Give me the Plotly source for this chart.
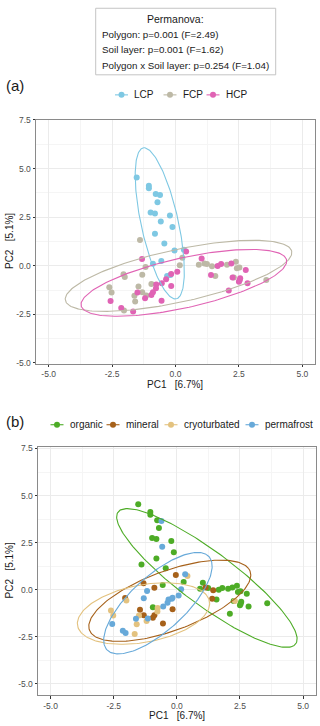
import numpy as np
import plotly.graph_objects as go

# ---------------- data ----------------
pc1 = [
    # LCP
    -1.53, -1.05, -1.05, -0.78, -0.61, -0.71, -0.98, -0.81, -0.22, -0.58,
    -0.12, -0.81, -0.44, -0.04, 0.33, -0.56, -0.89, -0.33, -0.20,
    # FCP
    -1.40, 0.27, 0.17, -1.18, -2.05, -2.00, -1.31, -2.61, -2.52, -1.46,
    -0.95, -1.62, -1.59, -1.31, -2.03, 0.92, 1.14, 1.24, 1.44, 1.57,
    2.03, 2.38, 2.42, 2.52, 2.30, 3.58, -1.15,
    # HCP
    -1.32, 0.42, 1.03, 1.40, 1.66, 1.80, 2.20, 2.77, 2.25, 2.55,
    2.53, 2.50, 2.84, 2.10, 0.07, -0.17, -0.37, -0.54, -0.76, -0.77,
    -0.89, -0.95, -1.20, -1.50, -0.17, -0.55, -2.56, -2.14, -1.67,
]
pc2 = [
    # LCP
    4.54, 4.12, 3.98, 3.69, 3.64, 3.27, 2.74, 2.69, 2.59, 2.28,
    1.99, 1.65, 1.14, 0.78, 0.82, 0.24, 0.10, -0.53, -0.48,
    # FCP
    1.33, 0.41, 0.02, -0.07, -0.44, -0.58, -0.46, -1.11, -1.38, -1.07,
    -0.94, -1.55, -1.84, -1.36, -2.30, 0.05, 0.12, 0.09, -0.03, -0.53,
    0.05, 0.20, -0.13, -0.09, -0.61, -0.73, -1.53,
    # HCP
    0.34, 0.73, 0.37, -0.48, -0.01, 0.09, 0.12, -0.22, -0.60, -0.65,
    -0.75, -0.83, -0.90, -1.28, -0.31, -0.43, -0.70, -0.90, -0.97, -1.16,
    -1.36, -1.50, -1.67, -1.38, -1.04, -1.80, -1.82, -2.18, -2.36,
]
polygon = ["LCP"] * 19 + ["FCP"] * 27 + ["HCP"] * 29
layer = [
    # LCP
    "organic", "organic", "organic", "organic", "permafrost", "organic", "organic",
    "organic", "organic", "permafrost", "organic", "organic", "organic", "mineral",
    "permafrost", "organic", "mineral", "permafrost", "permafrost",
    # FCP
    "organic", "organic", "permafrost", "permafrost", "mineral", "cryoturbated",
    "permafrost", "cryoturbated", "cryoturbated", "mineral", "organic", "permafrost",
    "cryoturbated", "mineral", "permafrost", "organic", "mineral", "organic",
    "mineral", "organic", "organic", "organic", "organic", "organic",
    "cryoturbated", "organic", "permafrost",
    # HCP
    "mineral", "cryoturbated", "organic", "mineral", "organic", "organic", "organic",
    "organic", "organic", "organic", "organic", "organic", "organic", "organic",
    "permafrost", "permafrost", "permafrost", "permafrost", "cryoturbated",
    "cryoturbated", "mineral", "mineral", "cryoturbated", "cryoturbated", "mineral",
    "mineral", "permafrost", "permafrost", "cryoturbated",
]

polygons = ["LCP", "FCP", "HCP"]
layers = ["organic", "mineral", "cryoturbated", "permafrost"]

# ellipse parameters: centre, semi-axes, angle (deg, data units)
ell_poly_cx = [-0.62, 0.12, 0.33]
ell_poly_cy = [2.18, -0.52, -0.88]
ell_poly_a = [3.94, 4.64, 4.22]
ell_poly_b = [0.74, 1.33, 1.26]
ell_poly_ang = [99.3, 16.4, 16.9]

ell_layer_cx = [1.19, -0.28, -1.32, -0.75]
ell_layer_cy = [0.62, -0.59, -1.27, -0.72]
ell_layer_a = [4.98, 3.56, 2.70, 3.22]
ell_layer_b = [1.25, 1.51, 1.50, 1.23]
ell_layer_ang = [-46.0, 28.6, 16.8, 53.7]

x_tick_vals = [-5.0, -2.5, 0.0, 2.5, 5.0]
x_tick_text = ["-5.0", "-2.5", "0.0", "2.5", "5.0"]
y_tick_vals = [-5.0, -2.5, 0.0, 2.5, 5.0, 7.5]
y_tick_text = ["-5.0", "-2.5", "0.0", "2.5", "5.0", "7.5"]

permanova_title = "Permanova:"
permanova_lines = [
    "Polygon: p=0.001 (F=2.49)",
    "Soil layer: p=0.001 (F=1.62)",
    "Polygon x Soil layer: p=0.254 (F=1.04)",
]

# ---------------- styles ----------------
poly_col = {"LCP": "#7EC8E3", "FCP": "#BDB9A6", "HCP": "#E063B4"}
layer_col = {"organic": "#4DAC26", "mineral": "#A6611A",
             "cryoturbated": "#E3C27F", "permafrost": "#67A9D9"}
FONT = "Liberation Sans, Arial, Helvetica, sans-serif"
W, H = 320, 726


def ellipse(cx, cy, a, b, ang):
    t = np.linspace(0, 2 * np.pi, 200)
    th = np.deg2rad(ang)
    x = cx + a * np.cos(t) * np.cos(th) - b * np.sin(t) * np.sin(th)
    y = cy + a * np.cos(t) * np.sin(th) + b * np.sin(t) * np.cos(th)
    return x, y


fig = go.Figure()
p1 = np.array(pc1)
p2 = np.array(pc2)
pg = np.array(polygon)
ly = np.array(layer)

# panel (a)
for i, g in enumerate(polygons):
    m = pg == g
    fig.add_trace(go.Scatter(x=p1[m], y=p2[m], mode="markers", xaxis="x", yaxis="y",
                             marker=dict(color=poly_col[g], size=6, line=dict(width=0)),
                             showlegend=False, hoverinfo="skip"))
for i, g in enumerate(polygons):
    ex, ey = ellipse(ell_poly_cx[i], ell_poly_cy[i], ell_poly_a[i], ell_poly_b[i], ell_poly_ang[i])
    fig.add_trace(go.Scatter(x=ex, y=ey, mode="lines", xaxis="x", yaxis="y",
                             line=dict(color=poly_col[g], width=1.1),
                             showlegend=False, hoverinfo="skip"))

# panel (b)
for i, g in enumerate(layers):
    m = ly == g
    fig.add_trace(go.Scatter(x=p1[m], y=p2[m], mode="markers", xaxis="x2", yaxis="y2",
                             marker=dict(color=layer_col[g], size=6, line=dict(width=0)),
                             showlegend=False, hoverinfo="skip"))
for i, g in enumerate(layers):
    ex, ey = ellipse(ell_layer_cx[i], ell_layer_cy[i], ell_layer_a[i], ell_layer_b[i], ell_layer_ang[i])
    fig.add_trace(go.Scatter(x=ex, y=ey, mode="lines", xaxis="x2", yaxis="y2",
                             line=dict(color=layer_col[g], width=1.1),
                             showlegend=False, hoverinfo="skip"))

# manual legends on a pixel overlay axis (x3/y3)
leg_a_key = [121.5, 170.0, 213.0]
leg_a_y = 91
leg_b_key = [57.0, 113.0, 171.0, 252.0]
leg_b_y = 425
annotations = []
for keys, names, cols, yy in [(leg_a_key, polygons, poly_col, leg_a_y),
                              (leg_b_key, layers, layer_col, leg_b_y)]:
    for k, n in zip(keys, names):
        fig.add_trace(go.Scatter(x=[k - 6.5, k + 6.5], y=[yy, yy], mode="lines",
                                 xaxis="x3", yaxis="y3",
                                 line=dict(color=cols[n], width=1.1),
                                 showlegend=False, hoverinfo="skip"))
        fig.add_trace(go.Scatter(x=[k], y=[yy], mode="markers", xaxis="x3", yaxis="y3",
                                 marker=dict(color=cols[n], size=6),
                                 showlegend=False, hoverinfo="skip"))
        annotations.append(dict(x=k + 10.5, y=yy, xref="x3", yref="y3", text=n,
                                showarrow=False, xanchor="left", yanchor="middle",
                                font=dict(family=FONT, size=10, color="#1a1a1a")))

# Permanova box text
annotations.append(dict(x=175, y=14, xref="x3", yref="y3", text=permanova_title,
                        showarrow=False, xanchor="center", yanchor="middle",
                        font=dict(family=FONT, size=10.5, color="#1a1a1a")))
for yy, t in zip([30, 45.5, 61], permanova_lines):
    annotations.append(dict(x=100, y=yy, xref="x3", yref="y3", text=t,
                            showarrow=False, xanchor="left", yanchor="middle",
                            font=dict(family=FONT, size=9.8, color="#1a1a1a")))

# panel tags
annotations.append(dict(x=4, y=82, xref="x3", yref="y3", text="(a)", showarrow=False,
                        xanchor="left", yanchor="middle",
                        font=dict(family=FONT, size=15, color="#1a1a1a")))
annotations.append(dict(x=4, y=422, xref="x3", yref="y3", text="(b)", showarrow=False,
                        xanchor="left", yanchor="middle",
                        font=dict(family=FONT, size=15, color="#1a1a1a")))

# axis titles
sp = "\u00a0\u00a0\u00a0"
for x, y, t, rot in [(175, 384, "PC1" + sp + "[6.7%]", 0),
                     (9.5, 239.5, "PC2" + sp + "[5.1%]", -90),
                     (177, 719.5, "PC1" + sp + "[6.7%]", 0),
                     (9.5, 573, "PC2" + sp + "[5.1%]", -90)]:
    annotations.append(dict(x=x, y=y, xref="x3", yref="y3", text=t, showarrow=False,
                            xanchor="center", yanchor="middle", textangle=rot,
                            font=dict(family=FONT, size=10, color="#1a1a1a")))

shapes = [dict(type="rect", xref="x3", yref="y3", x0=95.7, x1=275.7, y0=3.3, y1=70.7,
               line=dict(color="#C4C4C4", width=1), fillcolor="rgba(0,0,0,0)", layer="below")]


def axis(domain, rng, anchor, tv, tt):
    return dict(domain=domain, range=rng, anchor=anchor, tickmode="array",
                tickvals=tv, ticktext=tt,
                showgrid=True, gridcolor="#EBEBEB", gridwidth=1,
                minor=dict(tick0=0, dtick=1.25, showgrid=True, gridcolor="#F5F5F5",
                           gridwidth=0.6),
                zeroline=False, showline=True, linecolor="#8A8A8A", linewidth=1,
                mirror=True, ticks="outside", ticklen=2.5, tickcolor="#333333", tickwidth=1,
                tickfont=dict(family=FONT, size=8.5, color="#4D4D4D"), fixedrange=True)


fig.update_layout(
    width=W, height=H, margin=dict(l=0, r=0, t=0, b=0),
    paper_bgcolor="white", plot_bgcolor="rgba(0,0,0,0)",
    showlegend=False,
    xaxis=axis([36 / W, 315 / W], [-5.5, 5.5], "y", x_tick_vals, x_tick_text),
    yaxis=axis([1 - 363 / H, 1 - 116 / H], [-5.03, 7.52], "x", y_tick_vals, y_tick_text),
    xaxis2=axis([38 / W, 315.7 / W], [-5.5, 5.5], "y2", x_tick_vals, x_tick_text),
    yaxis2=axis([1 - 698.7 / H, 1 - 447.7 / H], [-5.6, 7.57], "x2", y_tick_vals, y_tick_text),
    xaxis3=dict(domain=[0, 1], range=[0, W], anchor="y3", visible=False, fixedrange=True),
    yaxis3=dict(domain=[0, 1], range=[H, 0], anchor="x3", visible=False, fixedrange=True),
    annotations=annotations,
    shapes=shapes,
    font=dict(family=FONT),
)

fig.write_html(
    "out.html",
    config={"displayModeBar": False},
    post_script="document.body.style.margin='0';document.body.style.overflow='hidden';",
)
